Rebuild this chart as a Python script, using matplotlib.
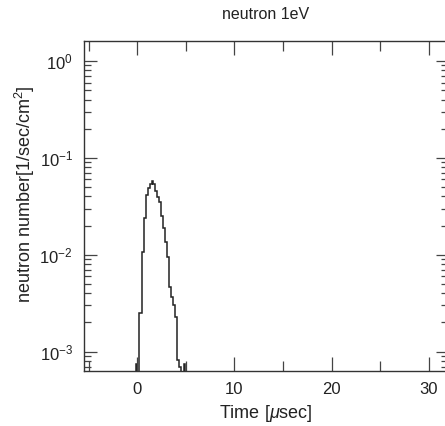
import matplotlib
matplotlib.use("Agg")
import matplotlib.pyplot as plt
from matplotlib.ticker import MultipleLocator, LogLocator, NullFormatter
import numpy as np

plt.rcParams['font.family'] = ['Liberation Sans', 'DejaVu Sans']
plt.rcParams['mathtext.fontset'] = 'custom'
plt.rcParams['mathtext.rm'] = 'Liberation Sans'
plt.rcParams['mathtext.it'] = 'Liberation Sans:italic'

# Histogram (bin edges in microseconds, values in 1/sec/cm^2)
bin_edges = [-0.13, -0.03, 0.16, 0.46, 0.66, 0.86, 1.06, 1.26, 1.46, 1.66, 1.86,
             2.06, 2.26, 2.46, 2.66, 2.86, 3.06, 3.26, 3.46, 3.66, 3.86, 4.06,
             4.26, 4.46, 4.82, 4.92]
counts = [7.5e-4, 1e-7, 2.5e-3, 0.0107, 0.0237, 0.041, 0.049, 0.054, 0.058,
          0.0536, 0.045, 0.039, 0.035, 0.0252, 0.0187, 0.0136, 0.0095, 0.0046,
          0.0037, 0.0030, 0.0023, 8.2e-4, 7.0e-4, 1e-7, 7.5e-4]

title = "neutron 1eV"
xlabel = r"Time [$\mathit{\mu}$sec]"
ylabel = r"neutron number[1/sec/cm$^{2}$]"

text_color = '#222222'
fig = plt.figure(figsize=(4.45, 4.26), dpi=100)
ax = fig.add_axes([84/445, (426-371)/426, (448-84)/445, (371-41)/426])

ax.stairs(counts, bin_edges, baseline=1e-7, fill=False, color='#222222', linewidth=1.1)

ax.set_yscale('log')
ax.set_xlim(-5.5, 32.0)
ax.set_ylim(6.3e-4, 1.61)

ax.xaxis.set_major_locator(MultipleLocator(10))
ax.xaxis.set_minor_locator(MultipleLocator(5))
ax.yaxis.set_major_locator(LogLocator(base=10))
ax.yaxis.set_minor_locator(LogLocator(base=10, subs=np.arange(2, 10)))
ax.yaxis.set_minor_formatter(NullFormatter())

for sp in ax.spines.values():
    sp.set_color('#333333')
    sp.set_linewidth(1.0)

ax.tick_params(axis='both', which='both', direction='in', top=True, right=True,
               color='#444444', width=0.9, labelcolor=text_color)
ax.tick_params(axis='x', which='major', length=10, labelsize=12, pad=8)
ax.tick_params(axis='x', which='minor', length=7)
ax.tick_params(axis='y', which='major', length=9, labelsize=12, pad=8)
ax.tick_params(axis='y', which='minor', length=5)

ax.set_title(title, fontsize=11.5, pad=16, color=text_color)
ax.set_xlabel(xlabel, fontsize=13, labelpad=4, color=text_color)
ax.set_ylabel(ylabel, fontsize=13, color=text_color)
ax.yaxis.set_label_coords(-0.13, 0.535)

fig.savefig("out.png", dpi=100)
